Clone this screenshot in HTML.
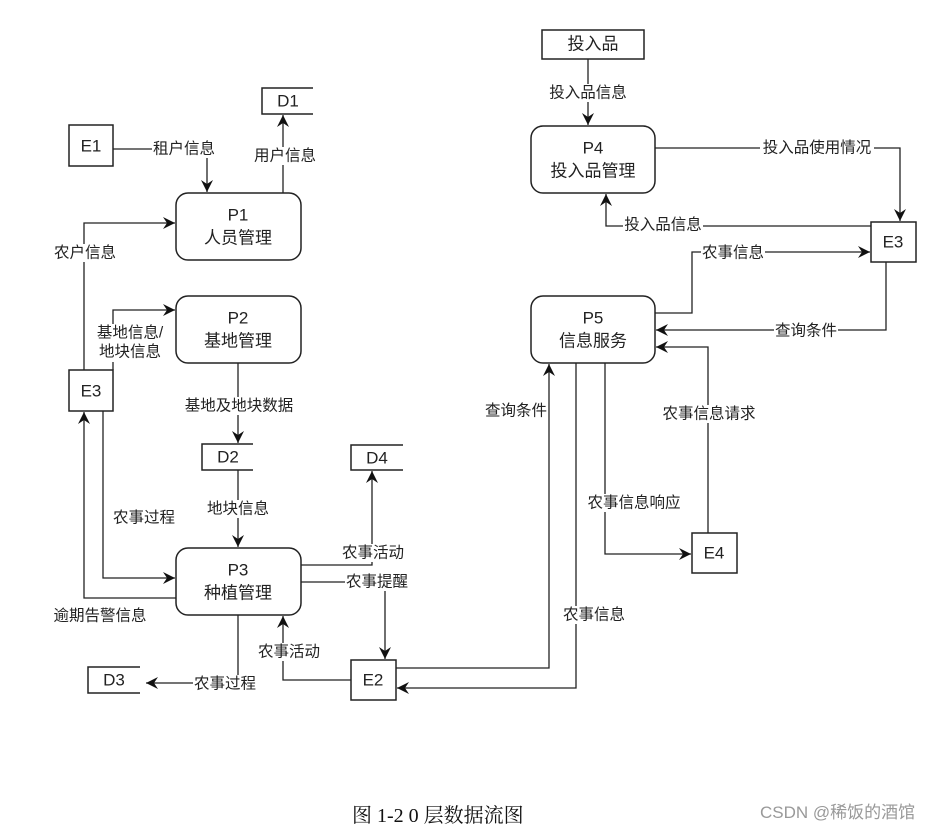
<!DOCTYPE html>
<html><head><meta charset="utf-8"><style>
html,body{margin:0;padding:0;background:#fff;}
svg{display:block;}
text{font-family:"Liberation Sans","Noto Sans CJK SC",sans-serif;fill:#222;}
.l{font-size:15.5px;text-anchor:middle;dominant-baseline:central;}
.n{font-size:17px;text-anchor:middle;dominant-baseline:central;}
</style></head><body>
<svg width="951" height="830" viewBox="0 0 951 830" xmlns="http://www.w3.org/2000/svg">
<defs><marker id="a" markerWidth="14" markerHeight="14" refX="12" refY="6" orient="auto" markerUnits="userSpaceOnUse"><path d="M0,0 L12,6 L0,12 L4,6 Z" fill="#111"/></marker></defs>
<g fill="#fff" stroke="#222" stroke-width="1.5">
<rect x="176" y="193" width="125" height="67" rx="12"/>
<rect x="176" y="296" width="125" height="67" rx="12"/>
<rect x="176" y="548" width="125" height="67" rx="12"/>
<rect x="531" y="126" width="124" height="67" rx="12"/>
<rect x="531" y="296" width="124" height="67" rx="12"/>
<rect x="69" y="125" width="44" height="41"/>
<rect x="69" y="370" width="44" height="41"/>
<rect x="351" y="660" width="45" height="40"/>
<rect x="692" y="533" width="45" height="40"/>
<rect x="871" y="222" width="45" height="40"/>
<rect x="542" y="30" width="102" height="29"/>
</g>
<g fill="none" stroke="#222" stroke-width="1.5">
<path d="M313,88 H262 V114 H313"/>
<path d="M253,444 H202 V470 H253"/>
<path d="M403,445 H351 V470 H403"/>
<path d="M140,667 H88 V693 H140"/>
</g>
<g fill="none" stroke="#222" stroke-width="1.3" marker-end="url(#a)">
<path d="M113,149 H207 V192"/>
<path d="M283,193 V115"/>
<path d="M84,370 V223 H175"/>
<path d="M113,370 V310 H175"/>
<path d="M238,363 V443"/>
<path d="M238,470 V547"/>
<path d="M103,411 V578 H175"/>
<path d="M176,598 H84 V412"/>
<path d="M301,565 H372 V471"/>
<path d="M301,582 H385 V659"/>
<path d="M351,680 H283 V616"/>
<path d="M238,615 V683 H146"/>
<path d="M396,668 H549 V364"/>
<path d="M576,363 V688 H397"/>
<path d="M605,363 V554 H691"/>
<path d="M708,533 V347 H656"/>
<path d="M588,59 V125"/>
<path d="M655,148 H900 V221"/>
<path d="M871,226 H606 V194"/>
<path d="M655,313 H692 V252 H870"/>
<path d="M886,262 V330 H656"/>
</g>
<g fill="#fff">
<rect x="152" y="140" width="64" height="18"/><rect x="252" y="147" width="66" height="18"/>
<rect x="54" y="244" width="62" height="18"/><rect x="96" y="324" width="68" height="38"/>
<rect x="183" y="397" width="112" height="18"/><rect x="206" y="500" width="64" height="18"/>
<rect x="110" y="509" width="68" height="18"/><rect x="52" y="607" width="98" height="18"/>
<rect x="341" y="544" width="64" height="18"/><rect x="345" y="573" width="64" height="18"/>
<rect x="257" y="643" width="64" height="18"/><rect x="193" y="675" width="64" height="18"/>
<rect x="484" y="402" width="64" height="18"/><rect x="562" y="606" width="64" height="18"/>
<rect x="586" y="494" width="96" height="18"/><rect x="660" y="405" width="98" height="18"/>
<rect x="548" y="84" width="80" height="18"/><rect x="760" y="139" width="114" height="18"/>
<rect x="623" y="216" width="80" height="18"/><rect x="701" y="244" width="64" height="18"/>
<rect x="774" y="322" width="64" height="18"/>
</g>
<g class="l">
<text x="184" y="149">租户信息</text><text x="285" y="156">用户信息</text>
<text x="85" y="253">农户信息</text><text x="130" y="333">基地信息/</text><text x="130" y="352">地块信息</text>
<text x="239" y="406">基地及地块数据</text><text x="238" y="509">地块信息</text>
<text x="144" y="518">农事过程</text><text x="100" y="616">逾期告警信息</text>
<text x="373" y="553">农事活动</text><text x="377" y="582">农事提醒</text>
<text x="289" y="652">农事活动</text><text x="225" y="684">农事过程</text>
<text x="516" y="411">查询条件</text><text x="594" y="615">农事信息</text>
<text x="634" y="503">农事信息响应</text><text x="709" y="414">农事信息请求</text>
<text x="588" y="93">投入品信息</text><text x="817" y="148">投入品使用情况</text>
<text x="663" y="225">投入品信息</text><text x="733" y="253">农事信息</text>
<text x="806" y="331">查询条件</text>
</g>
<g class="n">
<text x="238" y="215">P1</text><text x="238" y="238">人员管理</text>
<text x="238" y="318">P2</text><text x="238" y="341">基地管理</text>
<text x="238" y="570">P3</text><text x="238" y="593">种植管理</text>
<text x="593" y="148">P4</text><text x="593" y="171">投入品管理</text>
<text x="593" y="318">P5</text><text x="593" y="341">信息服务</text>
<text x="91" y="146">E1</text><text x="91" y="391">E3</text>
<text x="373" y="680">E2</text><text x="714" y="553">E4</text><text x="893" y="242">E3</text>
<text x="593" y="44">投入品</text>
<text x="288" y="101">D1</text><text x="228" y="457">D2</text>
<text x="377" y="458">D4</text><text x="114" y="680">D3</text>
</g>
<text x="352" y="822" style="font-family:'Liberation Serif','Noto Serif CJK SC',serif;font-size:20px;fill:#111">图 1-2 0 层数据流图</text>
<text x="760" y="818" style="font-size:17px;fill:#999">CSDN @稀饭的酒馆</text>
</svg>
</body></html>
